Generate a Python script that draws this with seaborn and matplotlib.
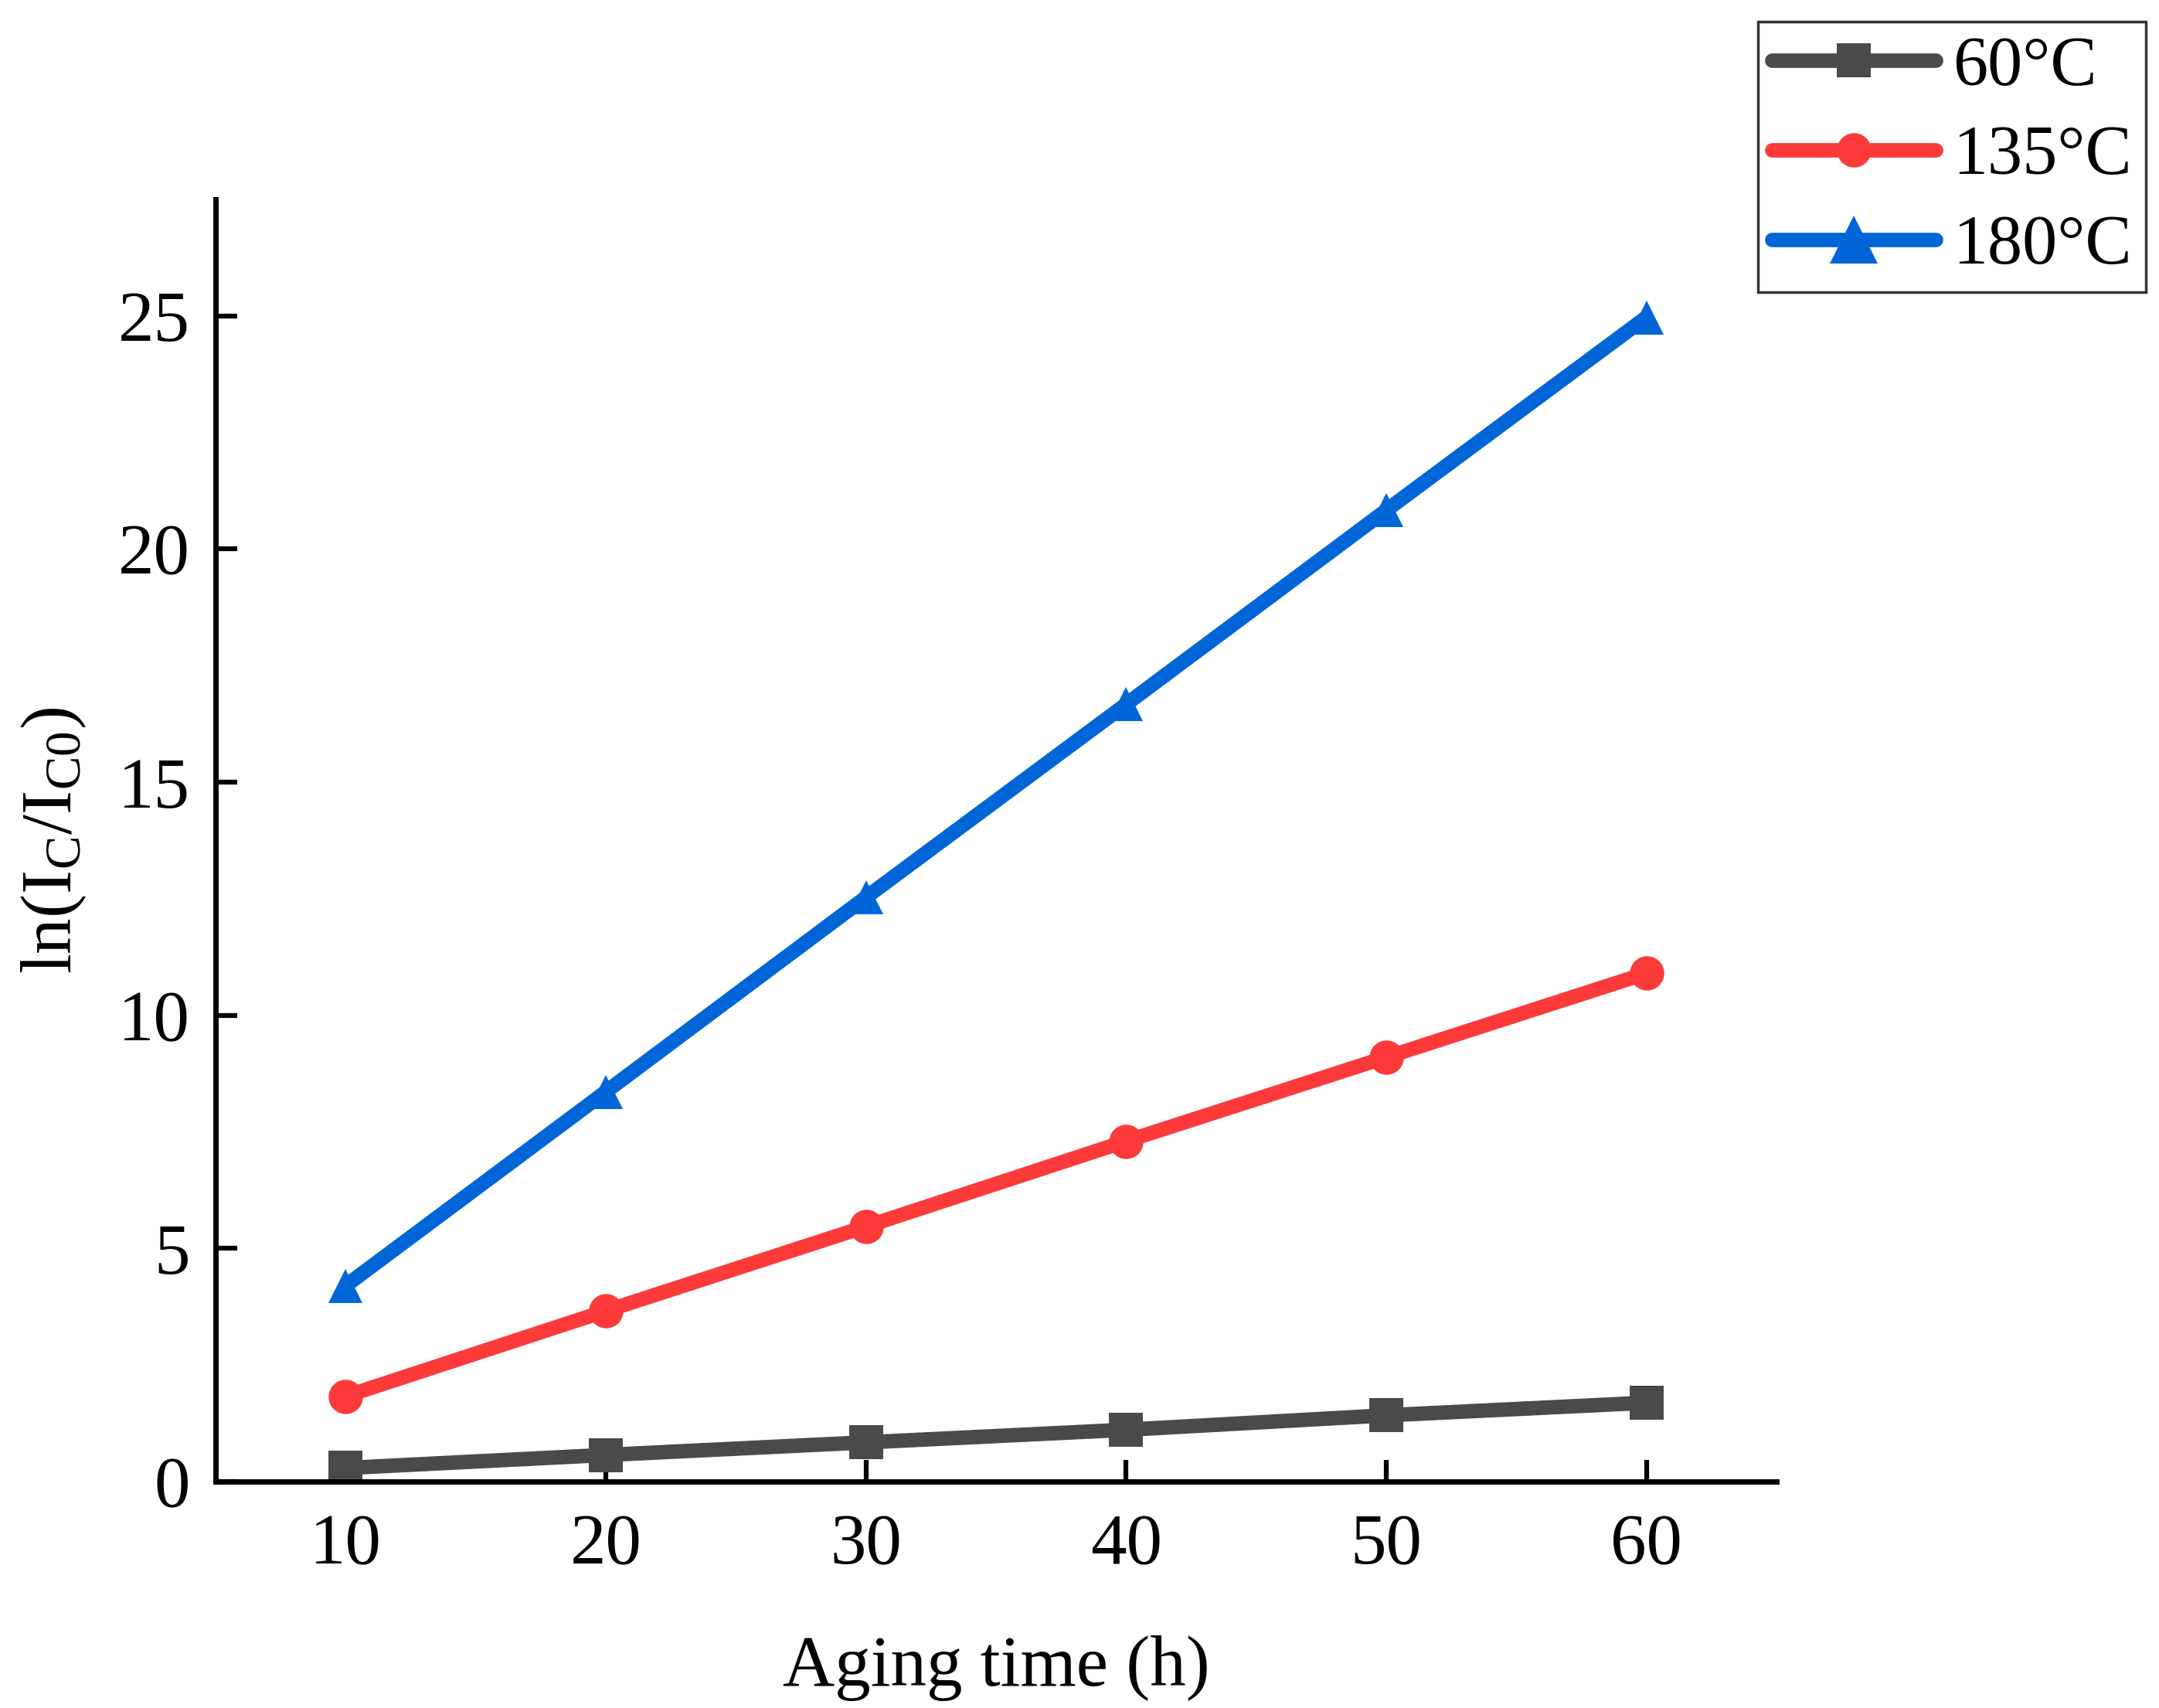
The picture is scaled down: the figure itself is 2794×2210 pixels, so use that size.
import matplotlib
matplotlib.use("Agg")
import matplotlib.pyplot as plt
import seaborn as sns
import pandas as pd

# ---- data ----
aging_time = [10, 20, 30, 40, 50, 60]
series_labels = ["60\u00b0C", "135\u00b0C", "180\u00b0C"]
vals_60 = [0.29, 0.57, 0.84, 1.11, 1.42, 1.69]
vals_135 = [1.83, 3.66, 5.47, 7.30, 9.10, 10.90]
vals_180 = [4.20, 8.36, 12.53, 16.67, 20.83, 24.97]
x_ticks = [10, 20, 30, 40, 50, 60]
y_ticks = [0, 5, 10, 15, 20, 25]

colors = {"60\u00b0C": "#4a4a4a", "135\u00b0C": "#fd3a3a", "180\u00b0C": "#0066d8"}
markers = {"60\u00b0C": "s", "135\u00b0C": "o", "180\u00b0C": "^"}

rows = []
for lab, vals in zip(series_labels, [vals_60, vals_135, vals_180]):
    for t, v in zip(aging_time, vals):
        rows.append({"t": t, "v": v, "series": lab})
df = pd.DataFrame(rows)

sns.set_style("ticks")
plt.rcParams["font.family"] = ["Liberation Serif", "DejaVu Serif"]
plt.rcParams["mathtext.fontset"] = "custom"
plt.rcParams["mathtext.rm"] = "Liberation Serif"
plt.rcParams["mathtext.it"] = "Liberation Serif:italic"
plt.rcParams["text.color"] = "black"
plt.rcParams["axes.labelcolor"] = "black"
plt.rcParams["xtick.color"] = "black"
plt.rcParams["ytick.color"] = "black"

fig = plt.figure(figsize=(27.94, 22.10), dpi=100)
ax = fig.add_axes([0.0999, 0.1326, 0.8228 - 0.0999, 0.8833 - 0.1326])

sns.lineplot(data=df, x="t", y="v", hue="series", style="series",
             hue_order=series_labels, style_order=series_labels,
             palette=colors, markers=markers, dashes=False,
             linewidth=13.5, markersize=32, markeredgewidth=0,
             ax=ax, legend=True)

ax.set_xlim(5, 65)
ax.set_ylim(0, 27.5)
ax.set_xticks(x_ticks)
ax.set_yticks(y_ticks)
ax.tick_params(axis="both", direction="in", length=20, width=4.5,
               labelsize=67, colors="black", labelcolor="black")
ax.tick_params(axis="x", pad=30)
ax.tick_params(axis="y", pad=24)
for s in ["top", "right"]:
    ax.spines[s].set_visible(False)
for s in ["left", "bottom"]:
    ax.spines[s].set_linewidth(5)
    ax.spines[s].set_color("black")

ax.set_xlabel("Aging time (h)", fontsize=67, labelpad=52, color="black")
ax.set_ylabel(r"ln(I$_\mathregular{C}$/I$_\mathregular{C0}$)", fontsize=67,
              labelpad=28, color="black")

handles, labels = ax.get_legend_handles_labels()
old = ax.get_legend()
if old is not None:
    old.remove()
leg = fig.legend(handles, labels, loc="upper right",
                 bbox_to_anchor=(2777 / 2794, 1 - 28 / 2210),
                 bbox_transform=fig.transFigure, borderaxespad=0,
                 fontsize=65, frameon=True, fancybox=False,
                 edgecolor="black", handlelength=2.35, handletextpad=0.25,
                 labelspacing=0.37, borderpad=0.2, labelcolor="black")
leg.get_frame().set_linewidth(2.5)
for h in leg.legend_handles:
    h.set_linewidth(13.5)
    h.set_markersize(32)
    h.set_solid_capstyle("round")
    h.set_markeredgewidth(0)
for h, lab in zip(leg.legend_handles, labels):
    if lab == "180\u00b0C":
        h.set_markersize(44)

fig.savefig("out.png", dpi=100, facecolor="white")
